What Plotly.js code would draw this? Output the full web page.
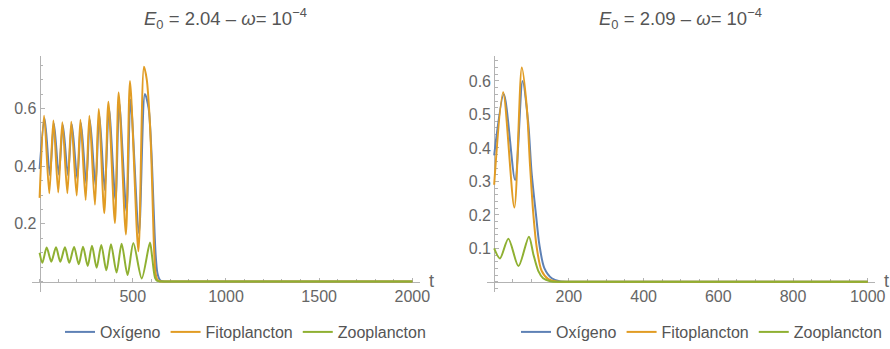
<!DOCTYPE html>
<html>
<head>
<meta charset="utf-8">
<script src="https://cdn.plot.ly/plotly-3.0.1.min.js"></script>
<style>html,body{margin:0;padding:0;background:#fff;}#chart{width:890px;height:349px;}</style>
</head>
<body>
<div id="chart"></div>
<script>
// ---------- Data ----------
const seriesNames = ["Oxígeno", "Fitoplancton", "Zooplancton"];
const titleLeft = "<i>E</i><sub>0</sub> = 2.04 – <i>ω</i>= 10<sup>−4</sup>";
const titleRight = "<i>E</i><sub>0</sub> = 2.09 – <i>ω</i>= 10<sup>−4</sup>";

// Left panel (E0 = 2.04)
const leftOxT = [0, 27, 55, 77, 103, 125, 152, 173, 202, 222, 250, 270, 300, 320, 350, 372, 407, 427, 466, 488, 533, 565, 585, 600, 612, 622, 632, 645, 660, 700, 800, 1000, 1200, 1500, 1800, 2000];
const leftOxV = [0.39, 0.565, 0.369, 0.548, 0.371, 0.543, 0.369, 0.545, 0.357, 0.55, 0.34, 0.56, 0.334, 0.58, 0.317, 0.60, 0.283, 0.62, 0.243, 0.63, 0.168, 0.65, 0.60, 0.45, 0.25, 0.10, 0.03, 0.006, 0.001, 0, 0, 0, 0, 0, 0, 0];
const leftFiT = [0, 24, 52, 74, 100, 122, 149, 170, 199, 219, 247, 267, 297, 317, 347, 369, 404, 424, 463, 485, 530, 560, 575, 590, 600, 608, 615, 622, 632, 645, 680, 800, 1000, 1200, 1500, 1800, 2000];
const leftFiV = [0.29, 0.575, 0.306, 0.558, 0.309, 0.552, 0.306, 0.554, 0.298, 0.561, 0.283, 0.575, 0.266, 0.598, 0.237, 0.623, 0.203, 0.655, 0.163, 0.695, 0.105, 0.745, 0.70, 0.57, 0.42, 0.24, 0.10, 0.03, 0.006, 0.001, 0, 0, 0, 0, 0, 0, 0];
const leftZoT = [0, 15, 38, 63, 88, 111, 136, 159, 185, 210, 233, 258, 281, 306, 331, 358, 383, 413, 440, 472, 503, 548, 592, 603, 612, 620, 632, 650, 690, 800, 1000, 1200, 1500, 1800, 2000];
const leftZoV = [0.10, 0.065, 0.118, 0.069, 0.119, 0.069, 0.119, 0.065, 0.120, 0.060, 0.121, 0.054, 0.124, 0.048, 0.127, 0.039, 0.129, 0.031, 0.131, 0.023, 0.134, 0.011, 0.135, 0.09, 0.04, 0.012, 0.002, 0.0005, 0, 0, 0, 0, 0, 0, 0];

// Right panel (E0 = 2.09)
const rightOxT = [0, 26, 56, 76, 91, 100, 112, 121, 134, 154, 175, 210, 260, 350, 500, 700, 850, 1000];
const rightOxV = [0.378, 0.56, 0.304, 0.60, 0.477, 0.329, 0.20, 0.111, 0.042, 0.011, 0.002, 0.0003, 0, 0, 0, 0, 0, 0];
const rightFiT = [0, 24, 54, 74, 87, 96, 105, 114, 127, 145, 167, 200, 250, 350, 500, 700, 850, 1000];
const rightFiV = [0.29, 0.566, 0.222, 0.64, 0.526, 0.348, 0.20, 0.102, 0.033, 0.008, 0.001, 0.0002, 0, 0, 0, 0, 0, 0];
const rightZoT = [0, 15.5, 38, 65, 93, 105, 118, 131, 150, 180, 230, 350, 500, 700, 850, 1000];
const rightZoV = [0.10, 0.070, 0.129, 0.047, 0.135, 0.082, 0.033, 0.011, 0.002, 0.0002, 0, 0, 0, 0, 0, 0];

// Tick labels
const leftXTicks = [500, 1000, 1500, 2000];
const leftYTicks = [0.2, 0.4, 0.6];
const rightXTicks = [200, 400, 600, 800, 1000];
const rightYTicks = [0.1, 0.2, 0.3, 0.4, 0.5, 0.6];

// ---------- Styling ----------
const colors = ["#5E81B5", "#E19C24", "#8FB032"];
const axisColor = "#b3b3b3";
const FONT = "Liberation Sans, Arial, sans-serif";
const tickFont = {family: FONT, size: 16, color: "#666666"};

function mk(x, y, i, xa, ya, leg) {
  return {
    x: x, y: y, type: "scatter", mode: "lines", name: seriesNames[i],
    line: {color: colors[i], width: 2, shape: "spline", smoothing: 0.8},
    xaxis: xa, yaxis: ya, legend: leg, showlegend: true, hoverinfo: "skip"
  };
}

const traces = [
  mk(leftOxT, leftOxV, 0, "x", "y", "legend"),
  mk(leftFiT, leftFiV, 1, "x", "y", "legend"),
  mk(leftZoT, leftZoV, 2, "x", "y", "legend"),
  mk(rightOxT, rightOxV, 0, "x2", "y2", "legend2"),
  mk(rightFiT, rightFiV, 1, "x2", "y2", "legend2"),
  mk(rightZoT, rightZoV, 2, "x2", "y2", "legend2")
];

function axis(domain, range, pos, tickvals, minorDtick) {
  return {
    domain: domain, range: range, anchor: "free", position: pos,
    showline: true, linecolor: axisColor, linewidth: 1,
    showgrid: false, zeroline: false, layer: "below traces",
    ticks: "inside", ticklen: 4, tickwidth: 1, tickcolor: axisColor,
    tickmode: "array", tickvals: tickvals, ticktext: tickvals.map(String),
    tickfont: tickFont, fixedrange: true,
    minor: {tickmode: "linear", tick0: 0, dtick: minorDtick, ticks: "inside", ticklen: 2.5, tickwidth: 1, tickcolor: axisColor, showgrid: false}
  };
}

const W = 890, H = 349;
const legendBase = {
  orientation: "h", xanchor: "left", yanchor: "middle", y: 1 - 335 / H,
  font: {family: FONT, size: 16, color: "#555555"},
  bgcolor: "rgba(0,0,0,0)", borderwidth: 0, traceorder: "normal"
};

const layout = {
  width: W, height: H,
  margin: {l: 0, r: 0, t: 0, b: 0},
  paper_bgcolor: "#ffffff", plot_bgcolor: "#ffffff",
  font: {family: FONT},
  xaxis: axis([31.7 / W, 420 / W], [-42.4, 2041], 1 - 284 / H, leftXTicks, 100),
  yaxis: axis([1 - 295 / H, 1 - 56 / H], [-0.0378, 0.7835], 39.6 / W, leftYTicks, 0.05),
  xaxis2: axis([486.7 / W, 875 / W], [-20, 1019.5], 1 - 284.3 / H, rightXTicks, 50),
  yaxis2: axis([1 - 295 / H, 1 - 56.7 / H], [-0.0317, 0.674], 494.2 / W, rightYTicks, 0.02),
  legend: Object.assign({}, legendBase, {x: 60 / W}),
  legend2: Object.assign({}, legendBase, {x: 516 / W}),
  annotations: [
    {text: titleLeft, xref: "paper", yref: "paper", x: 225.5 / W, y: 1 - 19 / H, xanchor: "center", yanchor: "middle", showarrow: false,
     font: {family: FONT, size: 18.5, color: "#555555"}},
    {text: titleRight, xref: "paper", yref: "paper", x: 680.5 / W, y: 1 - 19 / H, xanchor: "center", yanchor: "middle", showarrow: false,
     font: {family: FONT, size: 18.5, color: "#555555"}},
    {text: "t", xref: "paper", yref: "paper", x: 431 / W, y: 1 - 283 / H, xanchor: "center", yanchor: "middle", showarrow: false,
     font: {family: FONT, size: 18, color: "#666666"}},
    {text: "t", xref: "paper", yref: "paper", x: 886 / W, y: 1 - 283 / H, xanchor: "center", yanchor: "middle", showarrow: false,
     font: {family: FONT, size: 18, color: "#666666"}}
  ]
};

Plotly.newPlot("chart", traces, layout, {staticPlot: true, displayModeBar: false});
</script>
</body>
</html>
